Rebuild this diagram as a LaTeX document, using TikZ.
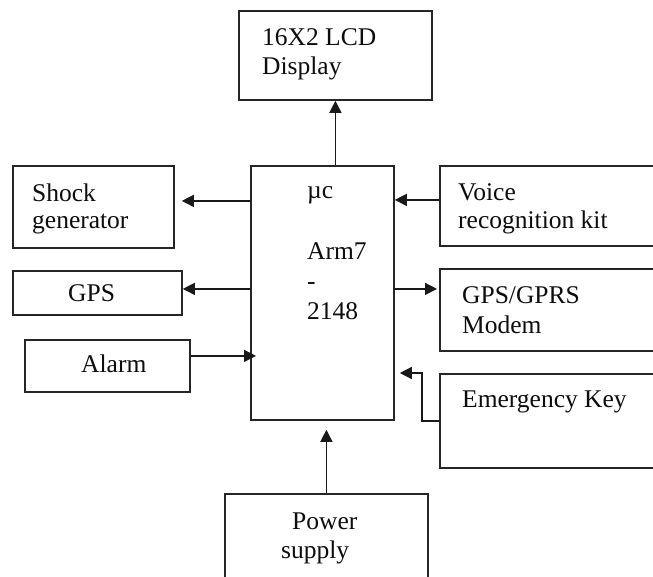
\documentclass[tikz,border=0pt]{standalone}
\usepackage{fontspec}
\setmainfont{Liberation Serif}
\usetikzlibrary{arrows.meta}
\begin{document}
\begin{tikzpicture}[x=1pt,y=-1pt,
 box/.style={draw=black!85, line width=1.8pt, anchor=north west, inner sep=0pt},
 txt/.style={anchor=base west, inner sep=0pt, font=\fontsize{25.5}{30}\selectfont, text=black!95},
 conn/.style={draw=black!90, line width=1.4pt, -{Triangle[length=12pt,width=12pt]}}]
\useasboundingbox (0,0) rectangle (653,576);
\clip (0,0) rectangle (653,576);
\fill[white] (0,0) rectangle (653,576);
% boxes
\node[box, minimum width=193pt, minimum height=89pt] (lcd) at (238,10) {};
\node[box, minimum width=161pt, minimum height=82pt] (shock) at (12,165) {};
\node[box, minimum width=169pt, minimum height=44pt] (gps) at (12,270) {};
\node[box, minimum width=165pt, minimum height=52pt] (alarm) at (24,339) {};
\node[box, minimum width=143pt, minimum height=254pt] (mc) at (250,165) {};
\node[box, minimum width=230pt, minimum height=80pt] (voice) at (439,165) {};
\node[box, minimum width=230pt, minimum height=82pt] (gprs) at (439,268) {};
\node[box, minimum width=230pt, minimum height=94pt] (emerg) at (439,373) {};
\node[box, minimum width=203pt, minimum height=100pt] (power) at (224,493) {};
% texts
\node[txt] (t1) at (262,45) {16X2 LCD};
\node[txt] (t2) at (262,74) {Display};
\node[txt] (t3) at (32,201) {Shock};
\node[txt] (t4) at (32,228) {generator};
\node[txt] (t5) at (68,301) {GPS};
\node[txt] (t6) at (81,372) {Alarm};
\node[txt] (t7) at (307,198) {µc};
\node[txt] (t8) at (307,259) {Arm7};
\node[txt] (t9) at (307,289) {-};
\node[txt] (t10) at (307,319) {2148};
\node[txt] (t11) at (458,200) {Voice};
\node[txt] (t12) at (458,228) {recognition kit};
\node[txt] (t13) at (462,303) {GPS/GPRS};
\node[txt] (t14) at (462,333) {Modem};
\node[txt] (t15) at (462,407) {Emergency Key};
\node[txt] (t16) at (292,529) {Power};
\node[txt] (t17) at (281,558) {supply};
% connectors
\draw[conn] (lcd.south |- mc.north) -- (lcd.south);
\draw[conn, shorten >=7pt] ([yshift=6pt]mc.west |- shock.east) -- ([yshift=6pt]shock.east);
\draw[conn] ([yshift=4pt]mc.west |- gps.east) -- ([yshift=4pt]gps.east);
\draw[conn, shorten >=-6pt] ([yshift=10pt]alarm.east) -- ([yshift=10pt]alarm.east -| mc.west);
\draw[conn] ([yshift=6pt]voice.west) -- ([yshift=6pt]voice.west -| mc.east);
\draw[conn, shorten >=2pt] ([yshift=21pt]gprs.west -| mc.east) -- ([yshift=21pt]gprs.west);
\draw[conn] (emerg.west) -- ++(-17,0) |- ([xshift=5pt]mc.east |- emerg.north);
\draw[conn, shorten >=9pt] (power.north) -- (power.north |- mc.south);
\end{tikzpicture}
\end{document}
